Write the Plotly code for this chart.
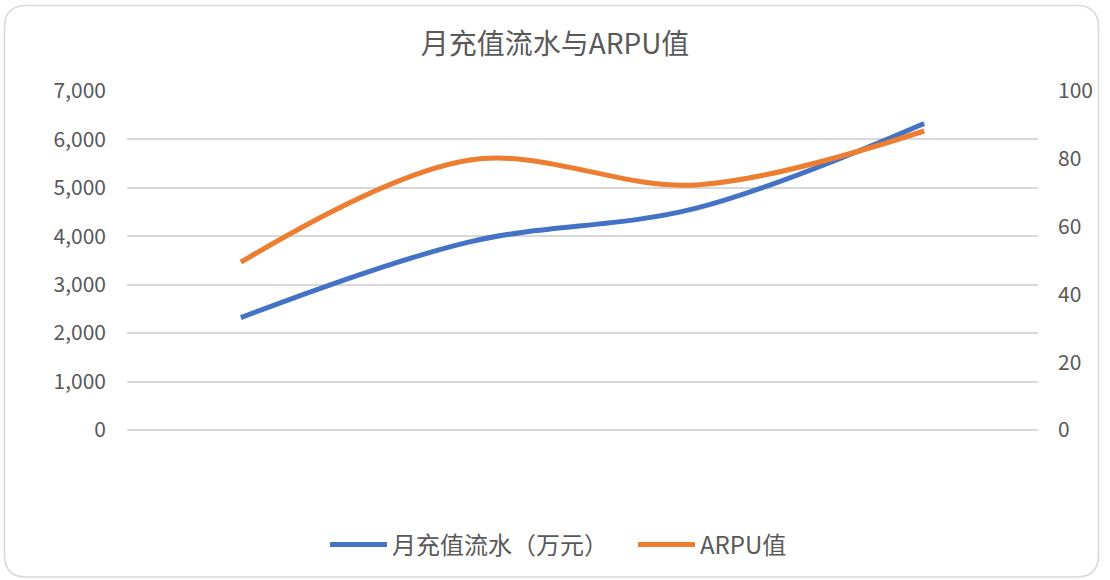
import plotly.graph_objects as go

# Monthly series: recharge revenue (10k CNY) on the left axis, ARPU on the right
periods = [1, 2, 3, 4]
recharge = [2320, 3880, 4580, 6330]
arpu = [49.5, 79.6, 72.3, 88.2]

left_ticks = [0, 1000, 2000, 3000, 4000, 5000, 6000, 7000]
right_ticks = [0, 20, 40, 60, 80, 100]

W, H = 1110, 580
ML, MR, MT, MB = 127, 72, 91, 150
PW, PH = W - ML - MR, H - MT - MB

BLUE = "#4472C4"
ORANGE = "#ED7D31"
GRID = "#D9D9D9"
TEXT = "#595959"
FONT = "Noto Sans CJK SC, Noto Sans, sans-serif"

fig = go.Figure()
fig.add_trace(go.Scatter(
    x=periods, y=recharge, name="月充值流水（万元）", mode="lines",
    line=dict(color=BLUE, width=5, shape="spline", smoothing=1.0),
    yaxis="y",
))
fig.add_trace(go.Scatter(
    x=periods, y=arpu, name="ARPU值", mode="lines",
    line=dict(color=ORANGE, width=5, shape="spline", smoothing=1.0),
    yaxis="y2",
))


def px_to_paper_x(px):
    return (px - ML) / PW


def px_to_paper_y(py):
    return (H - MB - py) / PH


# rounded outer frame of the chart
x0, y0, x1, y1, r = 4.5, 5.5, 1098.5, 577, 22
def P(x, y):
    return f"{px_to_paper_x(x):.5f},{px_to_paper_y(y):.5f}"
path = (
    f"M {P(x0 + r, y0)} L {P(x1 - r, y0)} Q {P(x1, y0)} {P(x1, y0 + r)} "
    f"L {P(x1, y1 - r)} Q {P(x1, y1)} {P(x1 - r, y1)} "
    f"L {P(x0 + r, y1)} Q {P(x0, y1)} {P(x0, y1 - r)} "
    f"L {P(x0, y0 + r)} Q {P(x0, y0)} {P(x0 + r, y0)} Z"
)

fig.update_layout(
    width=W, height=H,
    margin=dict(l=ML, r=MR, t=MT, b=MB, pad=0),
    paper_bgcolor="white", plot_bgcolor="white",
    font=dict(family=FONT, color=TEXT, size=21),
    title=dict(text="月充值流水与ARPU值", x=0.5, xanchor="center",
               y=1 - 44 / H, yanchor="middle",
               font=dict(family=FONT, size=28, color=TEXT)),
    xaxis=dict(range=[0.5, 4.5], showgrid=False, zeroline=False,
               showticklabels=False, ticks="", showline=False, fixedrange=True),
    yaxis=dict(range=[0, 7000], tickvals=left_ticks, tickformat=",d",
               showgrid=True, gridcolor=GRID, gridwidth=1.6,
               zeroline=True, zerolinecolor=GRID, zerolinewidth=1.6,
               showline=False, ticks="", ticklabelstandoff=20,
               tickfont=dict(size=21, color=TEXT)),
    yaxis2=dict(range=[0, 100], tickvals=right_ticks, overlaying="y",
                side="right", showgrid=False, zeroline=False, showline=False,
                ticks="", ticklabelstandoff=19,
                tickfont=dict(size=21, color=TEXT)),
    legend=dict(orientation="h", x=px_to_paper_x(325), xanchor="left",
                y=px_to_paper_y(545), yanchor="middle",
                font=dict(family=FONT, size=24, color=TEXT),
                itemwidth=57, entrywidth=236, entrywidthmode="pixels",
                bgcolor="rgba(0,0,0,0)"),
    shapes=[dict(type="path", path=path, xref="paper", yref="paper",
                 line=dict(color=GRID, width=1.6), layer="below")],
)

fig.write_html("out.html")
